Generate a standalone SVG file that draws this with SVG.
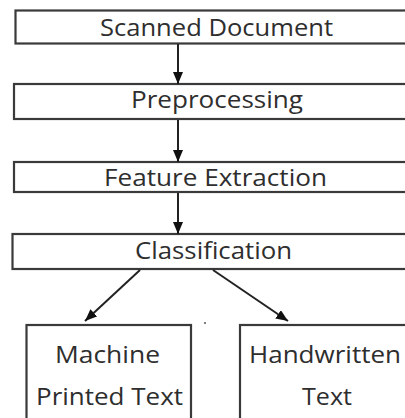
<svg xmlns="http://www.w3.org/2000/svg" width="405" height="418" viewBox="0 0 405 418">
<defs>
<style>
.box{fill:#fff;stroke:#3a3a3a;stroke-width:2.2}
.lbl{font-family:"Open Sans","Liberation Sans",sans-serif;font-size:24px;fill:#2e2e2e}
.con{stroke:#222;stroke-width:2;fill:none;marker-end:url(#ah)}
</style>
<marker id="ah" viewBox="0 0 12 10" refX="12" refY="5" markerWidth="12" markerHeight="10" markerUnits="userSpaceOnUse" orient="auto">
<path d="M0,0 L12,5 L0,10 Z" fill="#111"/>
</marker>
</defs>
<rect width="405" height="418" fill="#fff"/>
<g id="n-scanned"><rect class="box" x="15.5" y="10.5" width="400" height="33"/><text class="lbl" x="100" y="36" textLength="233" lengthAdjust="spacingAndGlyphs">Scanned Document</text></g>
<g id="n-preprocessing"><rect class="box" x="14" y="84" width="400" height="35"/><text class="lbl" x="131" y="108" textLength="172" lengthAdjust="spacingAndGlyphs">Preprocessing</text></g>
<g id="n-feature"><rect class="box" x="14" y="162" width="400" height="30"/><text class="lbl" x="104" y="186" textLength="223" lengthAdjust="spacingAndGlyphs">Feature Extraction</text></g>
<g id="n-classification"><rect class="box" x="12.5" y="234" width="400" height="35"/><text class="lbl" x="135" y="259" textLength="157" lengthAdjust="spacingAndGlyphs">Classification</text></g>
<g id="n-machine"><rect class="box" x="26.5" y="325" width="164.5" height="110"/><text class="lbl" x="55" y="363" textLength="105" lengthAdjust="spacingAndGlyphs">Machine</text><text class="lbl" x="36" y="405" textLength="147" lengthAdjust="spacingAndGlyphs">Printed Text</text></g>
<g id="n-handwritten"><rect class="box" x="240" y="325" width="200" height="110"/><text class="lbl" x="249" y="363" textLength="152" lengthAdjust="spacingAndGlyphs">Handwritten</text><text class="lbl" x="302" y="405" textLength="50" lengthAdjust="spacingAndGlyphs">Text</text></g>
<g id="connectors">
<line class="con" x1="178" y1="44" x2="178" y2="84"/>
<line class="con" x1="178" y1="120" x2="178" y2="162"/>
<line class="con" x1="178" y1="193" x2="178" y2="234"/>
<line class="con" x1="140" y1="270" x2="85" y2="321"/>
<line class="con" x1="213" y1="270" x2="288" y2="321"/>
</g>
<circle cx="205" cy="323" r="1" fill="#555"/>
</svg>
